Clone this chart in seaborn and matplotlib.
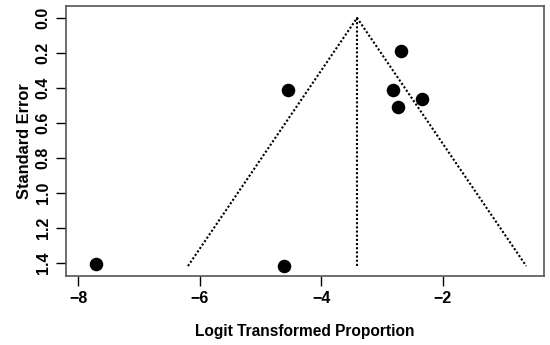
import matplotlib
matplotlib.use("Agg")
import matplotlib.pyplot as plt
import seaborn as sns
import pandas as pd
import numpy as np

# Data
logit_prop = [-7.70, -4.62, -4.55, -2.69, -2.82, -2.73, -2.35]
std_error = [1.41, 1.42, 0.41, 0.19, 0.415, 0.51, 0.465]
pooled_estimate = -3.41
x_ticks = [-8, -6, -4, -2]
y_ticks = [0.0, 0.2, 0.4, 0.6, 0.8, 1.0, 1.2, 1.4]

df = pd.DataFrame({"x": logit_prop, "se": std_error})

sns.set_theme(style="white")
plt.rcParams["font.family"] = ["Liberation Sans", "DejaVu Sans"]

fig = plt.figure(figsize=(5.5, 3.45), dpi=100)
ax = fig.add_axes([0.12, 0.2, 0.869, 0.7826])

se_max = max(std_error)
half = 1.96 * se_max
funnel = pd.DataFrame({
    "x": [pooled_estimate - half, pooled_estimate, pooled_estimate + half],
    "y": [se_max, 0.0, se_max],
})
sns.lineplot(data=funnel, x="x", y="y", sort=False, ax=ax, color="black",
             linestyle=(0, (1, 1.0)), linewidth=1.5, estimator=None)
vline = pd.DataFrame({"x": [pooled_estimate, pooled_estimate], "y": [0.0, se_max]})
sns.lineplot(data=vline, x="x", y="y", sort=False, ax=ax, color="black",
             linestyle=(0, (1, 1.0)), linewidth=1.5, estimator=None)

sns.scatterplot(data=df, x="x", y="se", ax=ax, s=95, color="black",
                edgecolor="black", linewidth=0, zorder=3)

ax.set_xlim(-8.2, -0.335)
ax.set_ylim(1.477, -0.068)
ax.set_xticks(x_ticks)
ax.set_xticklabels(["\u22128", "\u22126", "\u22124", "\u22122"])
ax.set_yticks(y_ticks)
ax.set_yticklabels([f"{v:.1f}" for v in y_ticks], rotation=90, va="center")

for sp in ax.spines.values():
    sp.set_visible(True)
    sp.set_color("#555555")
    sp.set_linewidth(1.2)

ax.tick_params(axis="both", which="both", direction="out", length=7, width=1.0,
               color="black", labelsize=11.5, pad=4,
               bottom=True, left=True, top=False, right=False)
for lab in ax.get_xticklabels() + ax.get_yticklabels():
    lab.set_fontweight("bold")
    lab.set_color("black")

ax.set_xlabel("Logit Transformed Proportion", fontsize=11.2, fontweight="bold",
              labelpad=13, color="black")
ax.set_ylabel("Standard Error", fontsize=11.8, fontweight="bold",
              labelpad=3, color="black")
ax.grid(False)

fig.savefig("out.png", dpi=100)
